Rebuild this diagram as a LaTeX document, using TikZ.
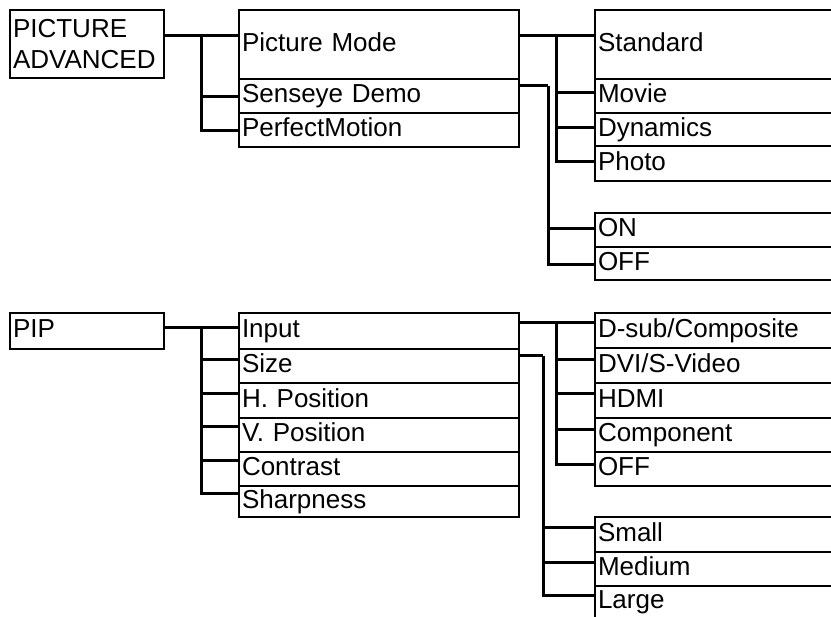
\documentclass[tikz,border=0pt]{standalone}
\usepackage{fontspec}
\setmainfont{Liberation Sans}
\begin{document}
\begin{tikzpicture}[x=1pt,y=-1pt,
  box/.style={draw, line width=2pt, anchor=north west, outer sep=0pt, inner xsep=3pt, inner ysep=0pt, align=left, font=\fontsize{26}{31}\selectfont},
  rowtext/.style={text height=19pt, text depth=5pt},
  midbox/.style={box, rowtext, minimum width=280, text width=274pt},
  rgtbox/.style={box, rowtext, minimum width=260, text width=254pt},
  conn/.style={line width=3pt}]
\useasboundingbox (0,0) rectangle (831,617);
\clip (0,0) rectangle (831,617);
% ---------- top section ----------
\node[box, minimum width=154, text width=148pt, minimum height=68] (root) at (10,10) {PICTURE\\ADVANCED};
\node[midbox, minimum height=69] (pm) at (239,10) {Picture Mode};
\node[midbox, minimum height=34] (sd) at (239,79) {Senseye Demo};
\node[midbox, minimum height=34] (pmo) at (239,113) {PerfectMotion};
\node[rgtbox, minimum height=69] (std) at (595,10) {Standard};
\node[rgtbox, minimum height=34] (mov) at (595,79) {Movie};
\node[rgtbox, minimum height=33] (dyn) at (595,113) {Dynamics};
\node[rgtbox, minimum height=35] (pho) at (595,146) {Photo};
\node[rgtbox, minimum height=34] (on) at (595,213) {ON};
\node[rgtbox, minimum height=33] (off) at (595,247) {OFF};
\coordinate (j1) at (201,36);
\coordinate (j2) at (556,36);
\coordinate (j3) at (548,86);
\draw[conn] (root.east |- 0,36) -- (pm.west |- 0,36);
\draw[conn] (j1) |- (sd.west |- 0,97);
\draw[conn] (j1) |- (pmo.west |- 0,131);
\draw[conn] (pm.east |- 0,36) -- (std.west |- 0,36);
\draw[conn] (j2) |- (mov.west |- 0,93);
\draw[conn] (j2) |- (dyn.west |- 0,128);
\draw[conn] (j2) |- (pho.west |- 0,162);
\draw[conn] (sd.east |- 0,86) -- (j3);
\draw[conn] (j3) |- (on.west |- 0,229);
\draw[conn] (j3) |- (off.west |- 0,265);
% ---------- bottom section ----------
\node[box, rowtext, minimum width=154, text width=148pt, minimum height=36] (pip) at (10,313) {PIP};
\node[midbox, minimum height=36] (inp) at (239,313) {Input};
\node[midbox, minimum height=34] (siz) at (239,349) {Size};
\node[midbox, minimum height=35] (hpo) at (239,383) {H. Position};
\node[midbox, minimum height=34] (vpo) at (239,418) {V. Position};
\node[midbox, minimum height=34] (con) at (239,452) {Contrast};
\node[midbox, minimum height=31] (sha) at (239,486) {Sharpness};
\node[rgtbox, minimum height=35] (dsu) at (595,313) {D-sub/Composite};
\node[rgtbox, minimum height=35] (dvi) at (595,348) {DVI/S-Video};
\node[rgtbox, minimum height=35] (hdm) at (595,383) {HDMI};
\node[rgtbox, minimum height=34] (cmp) at (595,418) {Component};
\node[rgtbox, minimum height=34] (offb) at (595,452) {OFF};
\node[rgtbox, minimum height=35] (sma) at (595,517) {Small};
\node[rgtbox, minimum height=34] (med) at (595,552) {Medium};
\node[rgtbox, minimum height=32] (lar) at (595,586) {Large};
\coordinate (k1) at (201,328);
\coordinate (k2) at (556,323);
\coordinate (k3) at (543,356);
\draw[conn] (pip.east |- 0,328) -- (inp.west |- 0,328);
\draw[conn] (k1) |- (siz.west |- 0,360);
\draw[conn] (k1) |- (hpo.west |- 0,394);
\draw[conn] (k1) |- (vpo.west |- 0,427);
\draw[conn] (k1) |- (con.west |- 0,461);
\draw[conn] (k1) |- (sha.west |- 0,494);
\draw[conn] (inp.east |- 0,323) -- (dsu.west |- 0,323);
\draw[conn] (k2) |- (dvi.west |- 0,360);
\draw[conn] (k2) |- (hdm.west |- 0,394);
\draw[conn] (k2) |- (cmp.west |- 0,430);
\draw[conn] (k2) |- (offb.west |- 0,465);
\draw[conn] (siz.east |- 0,356) -- (k3);
\draw[conn] (k3) |- (sma.west |- 0,528);
\draw[conn] (k3) |- (med.west |- 0,563);
\draw[conn] (k3) |- (lar.west |- 0,596);
\end{tikzpicture}
\end{document}
